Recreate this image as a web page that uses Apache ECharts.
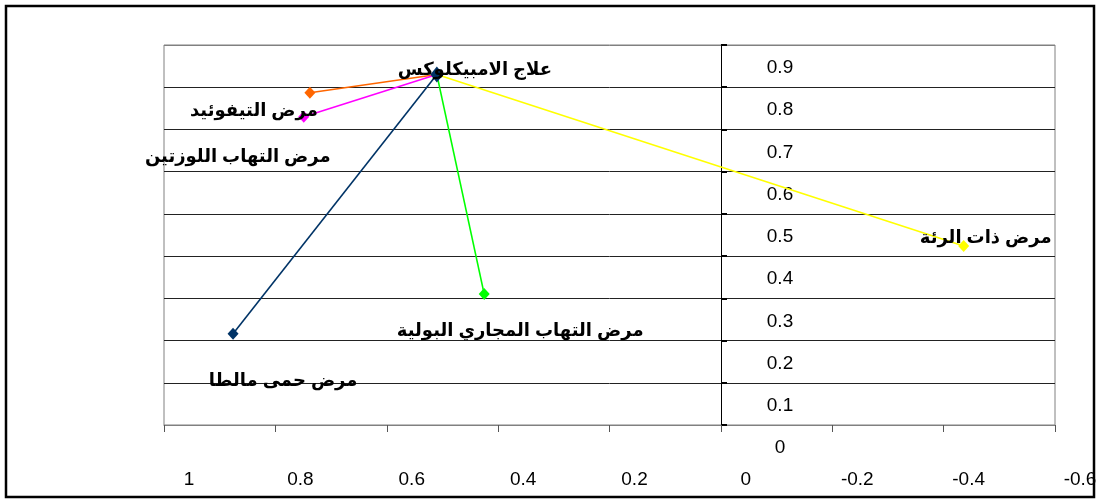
<!DOCTYPE html>
<html>
<head>
<meta charset="utf-8">
<script src="https://cdn.jsdelivr.net/npm/echarts@6/dist/echarts.min.js"></script>
<style>
  html, body { margin: 0; padding: 0; background: #fff; }
  #chart { width: 1102px; height: 500px; }
</style>
</head>
<body>
<div id="chart"></div>
<script>
// drug point and the disease points it is linked to
const drugName = "علاج الامبيكلوكس";
const drugPoint = [0.51, 0.83];
const diseaseNames = [
  "مرض حمى مالطا",
  "مرض التيفوئيد",
  "مرض التهاب اللوزتين",
  "مرض التهاب المجاري البولية",
  "مرض ذات الرئة",
];
const diseaseX = [0.876, 0.738, 0.749, 0.425, -0.436];
const diseaseY = [0.216, 0.787, 0.73, 0.31, 0.424];

// look of each series (same order as diseaseNames)
const looks = [
  { color: "#003366", offset: [50, 47] },
  { color: "#ff6600", offset: [-56, 18] },
  { color: "#ff00ff", offset: [-66, 40] },
  { color: "#00ff00", offset: [36, 37] },
  { color: "#ffff00", offset: [22, -8] },
];

const font = "Arial, 'Liberation Sans', 'DejaVu Sans', sans-serif";

const series = diseaseNames.map(function (name, i) {
  const look = looks[i];
  const start = { value: drugPoint };
  if (i === 0) {
    start.symbolSize = [13, 16];
    start.label = { show: true, formatter: drugName, offset: [38, -5] };
  } else {
    start.symbol = "none";
  }
  return {
    name: name,
    type: "line",
    symbol: "diamond",
    symbolSize: [11, 12],
    showAllSymbol: true,
    animation: false,
    lineStyle: { color: look.color, width: 1.6 },
    itemStyle: { color: look.color },
    label: {
      position: "inside",
      color: "#000",
      fontSize: 18,
      fontWeight: "bold",
      fontFamily: font,
    },
    data: [
      start,
      {
        value: [diseaseX[i], diseaseY[i]],
        label: { show: true, formatter: name, offset: look.offset },
      },
    ],
  };
});

function fmt(v) {
  return String(Math.round(v * 10) / 10);
}

const chart = echarts.init(document.getElementById("chart"));
chart.setOption({
  animation: false,
  grid: [
    {
      left: 164,
      right: 47,
      top: 45,
      bottom: 75,
      show: true,
      borderColor: "#808080",
      borderWidth: 1,
    },
    // second grid only carries the y labels, shifted half a step down like the original
    { left: 721, right: 47, top: 68, bottom: 52 },
  ],
  xAxis: [
    {
      type: "value",
      min: -0.6,
      max: 1,
      interval: 0.2,
      inverse: true,
      axisLine: { onZero: false, lineStyle: { color: "#808080", width: 1 } },
      axisTick: { show: true, length: 7, lineStyle: { color: "#555" } },
      splitLine: { show: false },
      axisLabel: {
        color: "#000",
        fontSize: 19,
        fontFamily: font,
        margin: 45,
        padding: [0, 0, 0, 50],
        formatter: fmt,
      },
    },
    { gridIndex: 1, type: "value", show: false },
  ],
  yAxis: [
    {
      type: "value",
      min: 0,
      max: 0.9,
      interval: 0.1,
      // axis line sits at x = 0 of the reversed x axis
      offset: -557,
      axisLine: { show: true, onZero: false, lineStyle: { color: "#000", width: 1 } },
      axisTick: { show: true, inside: true, length: 6, lineStyle: { color: "#000", width: 2 } },
      axisLabel: { show: false },
      splitLine: {
        show: true,
        lineStyle: {
          color: ["#808080", "#222", "#222", "#222", "#222", "#222", "#222", "#222", "#222", "#808080"],
          width: 1,
        },
      },
    },
    {
      gridIndex: 1,
      type: "value",
      min: 0,
      max: 0.9,
      interval: 0.1,
      axisLine: { show: false, onZero: false },
      axisTick: { show: false },
      splitLine: { show: false },
      axisLabel: {
        inside: true,
        align: "center",
        margin: 59,
        color: "#000",
        fontSize: 19,
        fontFamily: font,
        formatter: fmt,
      },
    },
  ],
  graphic: [
    {
      type: "rect",
      shape: { x: 6, y: 6, width: 1088, height: 491 },
      style: { fill: "none", stroke: "#000", lineWidth: 2.5 },
      silent: true,
      z: 100,
    },
  ],
  series: series,
});
</script>
</body>
</html>
